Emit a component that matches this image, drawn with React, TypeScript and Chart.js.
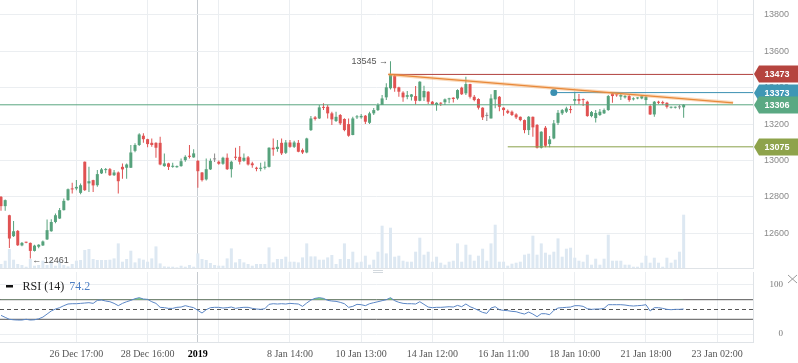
import React, { useEffect, useRef } from 'react';
import { Chart, registerables } from 'chart.js';

Chart.register(...registerables);

// ---------- data (one candle per trading hour, index 0..163) ----------
const OPEN = [
  12800, 12749, 12699, 12584, 12613, 12533, 12550, 12547, 12503, 12526,
  12533, 12566, 12611, 12662, 12681, 12727, 12782, 12846, 12846, 12822,
  12993, 12874, 12892, 12864, 12929, 12947, 12952, 12919, 12934, 12965,
  12960, 12960, 13053, 13085, 13136, 13117, 13097, 13097, 13097, 12969,
  12984, 12965, 12963, 12969, 13002, 13026, 13017, 12998, 12934, 12896,
  12951, 13006, 12993, 12982, 13015, 12952, 13020, 13020, 12998, 13017,
  12984, 12960, 12954, 12960, 12965, 13070, 13063, 13097, 13042, 13099,
  13075, 13097, 13057, 13044, 13167, 13237, 13231, 13294, 13295, 13259,
  13217, 13250, 13228, 13200, 13140, 13237, 13237, 13246, 13207, 13259,
  13277, 13305, 13347, 13397, 13466, 13402, 13373, 13350, 13350, 13354,
  13328, 13347, 13378, 13323, 13305, 13316, 13320, 13336, 13345, 13341,
  13400, 13369, 13420, 13350, 13338, 13290, 13245, 13231, 13336, 13350,
  13290, 13273, 13268, 13253, 13240, 13222, 13167, 13240, 13195, 13070,
  13180, 13090, 13121, 13207, 13259, 13268, 13281, 13328, 13338, 13336,
  13323, 13244, 13233, 13250, 13259, 13277, 13369, 13361, 13351, 13347,
  13354, 13336, 13341, 13341, 13332, 13299, 13253, 13323, 13321, 13317,
  13290, 13290, 13292, 13292,
];
const HIGH = [
  12805, 12785, 12702, 12668, 12618, 12552, 12553, 12549, 12537, 12540,
  12560, 12676, 12677, 12709, 12739, 12791, 12846, 12877, 12892, 12874,
  12995, 12965, 12894, 12947, 12958, 12958, 12958, 12947, 12940, 12984,
  12984, 13085, 13094, 13149, 13149, 13120, 13121, 13100, 13130, 13039,
  12987, 12987, 12972, 13011, 13029, 13085, 13061, 13002, 12937, 13011,
  13011, 13039, 13000, 13020, 13039, 12998, 13070, 13079, 13039, 13024,
  12993, 12966, 12987, 12995, 13072, 13121, 13112, 13121, 13112, 13112,
  13108, 13112, 13066, 13125, 13244, 13244, 13305, 13314, 13305, 13268,
  13268, 13255, 13232, 13231, 13240, 13250, 13255, 13250, 13268, 13288,
  13314, 13360, 13424, 13545, 13475, 13405, 13380, 13382, 13365, 13409,
  13436, 13411, 13380, 13327, 13320, 13320, 13340, 13345, 13347, 13392,
  13405, 13460, 13422, 13360, 13342, 13292, 13264, 13364, 13387, 13355,
  13292, 13280, 13275, 13260, 13242, 13225, 13245, 13242, 13200, 13160,
  13189, 13134, 13222, 13277, 13283, 13295, 13301, 13378, 13365, 13341,
  13328, 13272, 13277, 13283, 13286, 13360, 13372, 13365, 13369, 13360,
  13360, 13347, 13347, 13360, 13354, 13308, 13327, 13328, 13328, 13320,
  13296, 13296, 13305, 13310,
];
const LOW = [
  12723, 12723, 12519, 12580, 12530, 12528, 12545, 12461, 12500, 12518,
  12530, 12563, 12608, 12655, 12678, 12725, 12778, 12819, 12837, 12815,
  12832, 12827, 12827, 12855, 12925, 12930, 12915, 12915, 12819, 12899,
  12899, 12958, 13045, 13080, 13097, 13072, 13075, 13015, 12974, 12965,
  12947, 12960, 12960, 12966, 12993, 13011, 13015, 12850, 12885, 12890,
  12947, 12991, 12977, 12977, 12947, 12907, 13002, 12978, 12993, 12972,
  12960, 12941, 12941, 12950, 12962, 13026, 13048, 13030, 13035, 13070,
  13068, 13045, 13035, 13040, 13162, 13220, 13228, 13277, 13231, 13195,
  13212, 13195, 13160, 13130, 13138, 13228, 13230, 13200, 13200, 13250,
  13272, 13305, 13332, 13390, 13378, 13350, 13323, 13336, 13330, 13308,
  13325, 13327, 13310, 13305, 13273, 13300, 13305, 13315, 13318, 13334,
  13360, 13360, 13340, 13325, 13280, 13222, 13217, 13231, 13287, 13271,
  13246, 13255, 13245, 13228, 13215, 13149, 13140, 13130, 13066, 13066,
  13073, 13073, 13117, 13195, 13250, 13261, 13259, 13305, 13310, 13299,
  13240, 13237, 13209, 13244, 13255, 13273, 13317, 13350, 13332, 13341,
  13323, 13330, 13336, 13336, 13305, 13250, 13240, 13310, 13305, 13286,
  13285, 13285, 13281, 13235,
];
const CLOSE = [
  12749, 12782, 12571, 12611, 12534, 12547, 12548, 12503, 12532, 12537,
  12555, 12617, 12662, 12699, 12727, 12778, 12842, 12841, 12855, 12864,
  12837, 12886, 12863, 12925, 12951, 12952, 12919, 12934, 12886, 12951,
  12978, 13044, 13085, 13143, 13117, 13090, 13085, 13070, 12978, 12984,
  12965, 12971, 12969, 12996, 13020, 13020, 13039, 12941, 12892, 12952,
  12998, 13006, 12982, 13015, 12952, 12993, 13015, 12993, 13015, 12978,
  12974, 12954, 12960, 12965, 13070, 13061, 13075, 13039, 13099, 13075,
  13099, 13048, 13044, 13121, 13231, 13228, 13292, 13289, 13259, 13226,
  13240, 13204, 13167, 13136, 13231, 13242, 13245, 13213, 13259, 13277,
  13305, 13341, 13402, 13470, 13397, 13378, 13347, 13359, 13363, 13328,
  13433, 13382, 13323, 13308, 13317, 13312, 13336, 13341, 13338, 13387,
  13364, 13420, 13350, 13332, 13290, 13237, 13245, 13341, 13387, 13295,
  13277, 13262, 13250, 13237, 13222, 13167, 13240, 13182, 13070, 13158,
  13081, 13116, 13204, 13262, 13277, 13286, 13277, 13338, 13328, 13332,
  13244, 13266, 13261, 13268, 13277, 13354, 13354, 13358, 13360, 13354,
  13332, 13341, 13343, 13354, 13350, 13253, 13323, 13317, 13314, 13295,
  13293, 13293, 13292, 13306,
];
const VOLUME = [
  40, 73, 190, 83, 40, 30, 13, 90, 23, 30,
  73, 30, 73, 23, 73, 30, 16, 40, 73, 80,
  180, 190, 90, 80, 80, 80, 83, 96, 246, 63,
  90, 173, 56, 96, 83, 63, 96, 216, 46, 16,
  13, 13, 6, 23, 13, 30, 13, 146, 90, 80,
  50, 30, 23, 23, 96, 196, 56, 90, 56, 40,
  23, 40, 40, 40, 206, 56, 90, 90, 113, 63,
  63, 56, 106, 246, 116, 116, 83, 83, 106, 130,
  40, 90, 246, 90, 163, 56, 63, 123, 33, 83,
  163, 423, 146, 403, 113, 123, 73, 63, 63, 163,
  303, 133, 163, 63, 113, 53, 33, 63, 73, 246,
  63, 233, 133, 73, 123, 193, 73, 246, 433, 63,
  63, 23, 43, 53, 63, 133, 143, 323, 133, 246,
  153, 133, 163, 296, 113, 193, 203, 103, 73, 63,
  133, 33, 93, 33, 93, 333, 73, 73, 73, 33,
  33, 13, 13, 53, 123, 53, 103, 53, 13, 103,
  53, 83, 163, 533,
];
const RSI = [
  38, 34, 30, 29, 28.5, 28.5, 30, 28.5, 29, 31,
  34.5, 40.7, 47, 51, 53.7, 57.8, 61.2, 61.8, 61.8, 62.5,
  63.2, 63.9, 62.5, 68.6, 69.3, 67.3, 65.9, 62.5, 57.8, 62.5,
  65.9, 68.6, 72, 74.1, 71.4, 70.7, 65.9, 62.5, 54.4, 53.7,
  52.3, 52.3, 54.4, 55, 57.8, 55.7, 53.7, 48.2, 42.8, 49.6,
  53.7, 54.4, 54.4, 53, 53.7, 55, 52.3, 53.7, 54.4, 54.4,
  52.3, 51, 50.3, 51.6, 60.5, 61.8, 61.2, 61.8, 61.2, 62.5,
  61.8, 61.2, 56.4, 63.2, 69.3, 72.7, 74.1, 72.7, 68.6, 67.3,
  66.6, 64.6, 61.8, 54.4, 56.4, 60.5, 59.8, 57.8, 61.8, 63.9,
  65.9, 68, 70, 74.1, 68, 64.6, 62.5, 61.8, 61.8, 61.2,
  65.9, 60.5, 55, 53.7, 54.4, 54.4, 55, 55.7, 55, 58.4,
  55.7, 61.2, 55.7, 52.3, 48.2, 44.1, 42.1, 53, 55.7, 49.6,
  48.2, 47.6, 46.2, 45.5, 42.8, 40.7, 44.8, 40.7, 35.3, 41.4,
  41.4, 39.4, 48.2, 53, 53.7, 54.4, 55, 57.8, 57.8, 56.4,
  51.6, 50.3, 51, 51, 52.3, 59.8, 59.8, 59.8, 59.8, 59.1,
  57.8, 57.1, 57.8, 58.4, 59.8, 46.9, 53.7, 53.7, 52.3, 50.3,
  49.6, 50.3, 50.3, 51,
];

const X_TICK_POS = [18, 35, 47, 52, 69, 86, 103, 120, 137, 154, 171];
const X_TICK_LABELS = [
  '26 Dec 17:00', '28 Dec 16:00', '2019', '', '8 Jan 14:00', '10 Jan 13:00',
  '14 Jan 12:00', '16 Jan 11:00', '18 Jan 10:00', '21 Jan 18:00', '23 Jan 02:00',
];
const PRICE_TICKS = [12600, 12800, 13000, 13200, 13400, 13600, 13800];
const RSI_TICKS = [0, 100];

const LEVEL_VALUES = [13473, 13373, 13306, 13075];
const LEVEL_START = [92.5, 132, -0.24, 121];
const LEVEL_LINE_COLORS = ['#b0403d', '#3b90b2', '#5aa680', '#8aa04a'];
const LEVEL_TAG_COLORS = ['#b5443f', '#3f97b5', '#5aa983', '#8ea34b'];

const TREND_X = [92.5, 174.8];
const TREND_Y = [13473, 13317];

const HIGH_MARK = { index: 93, value: 13545 };
const LOW_MARK = { index: 7, value: 12461 };

const RSI_PERIOD = 14;
const RSI_CURRENT = 74.2;
const RSI_LEVELS = [70, 50, 30];

// ---------- scale settings ----------
const X_MIN = -0.24;
const X_MAX = 179.56;
const Y_MIN = 12409;
const Y_MAX = 13882;
const VOL_MAX = 2680;
const RSI_MIN = -16.3;
const RSI_MAX = 126.5;

const GREEN = '#56a27c';
const RED = '#e05252';
const GREY = '#8a8a8a';
const GRID = '#ebeef1';
const BORDER = '#dfe3e7';
const SANS = '"Liberation Sans", Arial, sans-serif';
const SERIF = '"Liberation Serif", "Times New Roman", serif';

const candleColor = (i: number) =>
  CLOSE[i] > OPEN[i] ? GREEN : CLOSE[i] < OPEN[i] ? RED : GREY;

const xGridColor = (ctx: any) =>
  X_TICK_LABELS[ctx.index] === '2019' ? '#c6cbd0' : GRID;

const setXTicks = (s: any) => {
  s.ticks = X_TICK_POS.map((v) => ({ value: v }));
};

const zeroPad = (s: any) => {
  s.paddingTop = 0;
  s.paddingBottom = 0;
  s.paddingLeft = 0;
  s.paddingRight = 0;
};

const mainOverlay = {
  id: 'mainOverlay',
  afterDraw(chart: any) {
    const { ctx, scales, chartArea } = chart;
    const x = scales.x;
    const y = scales.y;
    ctx.save();
    ctx.font = `9px ${SANS}`;
    ctx.fillStyle = '#555';
    ctx.textBaseline = 'middle';
    ctx.textAlign = 'right';
    ctx.fillText(
      `${HIGH_MARK.value} →`,
      x.getPixelForValue(HIGH_MARK.index) - 2.5,
      y.getPixelForValue(HIGH_MARK.value) + 0.5
    );
    ctx.textAlign = 'left';
    ctx.fillText(
      `← ${LOW_MARK.value}`,
      x.getPixelForValue(LOW_MARK.index) + 2,
      y.getPixelForValue(LOW_MARK.value) + 1.5
    );
    // price tags
    const left = chartArea.right + 1;
    const right = chart.width;
    LEVEL_VALUES.forEach((v, k) => {
      const py = Math.round(y.getPixelForValue(v));
      ctx.fillStyle = LEVEL_TAG_COLORS[k];
      ctx.beginPath();
      ctx.moveTo(left, py);
      ctx.lineTo(left + 5, py - 8.5);
      ctx.lineTo(right, py - 8.5);
      ctx.lineTo(right, py + 8.5);
      ctx.lineTo(left + 5, py + 8.5);
      ctx.closePath();
      ctx.fill();
      ctx.fillStyle = '#ffffff';
      ctx.font = `bold 9px ${SANS}`;
      ctx.textAlign = 'center';
      ctx.fillText(String(v), 777, py + 0.5);
    });
    ctx.restore();
  },
};

const rsiOverlay = {
  id: 'rsiOverlay',
  afterDraw(chart: any) {
    const { ctx } = chart;
    ctx.save();
    ctx.fillStyle = '#111';
    ctx.fillRect(6, 15, 7, 2.5);
    ctx.font = `12px ${SERIF}`;
    ctx.textBaseline = 'middle';
    ctx.textAlign = 'left';
    ctx.fillStyle = '#222';
    const title = `RSI (${RSI_PERIOD})`;
    ctx.fillText(title, 22.5, 17);
    const w = ctx.measureText(title).width;
    ctx.fillStyle = '#4d7fc4';
    ctx.fillText(RSI_CURRENT.toFixed(1), 22.5 + w + 5, 17);
    // close icon
    ctx.strokeStyle = '#9a9a9a';
    ctx.lineWidth = 1;
    ctx.beginPath();
    ctx.moveTo(788, 5);
    ctx.lineTo(797, 13);
    ctx.moveTo(797, 5);
    ctx.lineTo(788, 13);
    ctx.stroke();
    // panel resize handle
    ctx.fillStyle = '#d3d9de';
    ctx.fillRect(373, 0, 10, 1);
    ctx.fillRect(373, 2, 10, 1);
    ctx.restore();
  },
};

export default function App() {
  const mainRef = useRef<HTMLCanvasElement>(null);
  const rsiRef = useRef<HTMLCanvasElement>(null);

  useEffect(() => {
    const idx = OPEN.map((_, i) => i);
    const colors = idx.map(candleColor);

    const levelSets = LEVEL_VALUES.map((v, k) => ({
      type: 'line' as const,
      label: `level ${v}`,
      data: [
        { x: LEVEL_START[k], y: v },
        { x: X_MAX, y: v },
      ],
      yAxisID: 'y',
      borderColor: LEVEL_LINE_COLORS[k],
      borderWidth: 1,
      pointRadius: k === 1 ? [3.5, 0] : 0,
      pointBackgroundColor: LEVEL_LINE_COLORS[k],
      pointBorderWidth: 0,
      fill: false,
      order: 2,
    }));

    const trendPts = TREND_X.map((x, k) => ({ x, y: TREND_Y[k] }));

    const main = new Chart(mainRef.current as HTMLCanvasElement, {
      type: 'bar',
      data: {
        datasets: [
          {
            type: 'bar',
            label: 'Volume',
            data: VOLUME.map((v, i) => ({ x: i, y: v })),
            yAxisID: 'yVol',
            backgroundColor: '#dde8f2',
            barThickness: 3,
            grouped: false,
            inflateAmount: 0,
            order: 10,
          } as any,
          {
            type: 'bar',
            label: 'Wick',
            data: idx.map((i) => ({ x: i, y: [LOW[i], HIGH[i]] })),
            yAxisID: 'y',
            backgroundColor: colors,
            barThickness: 1,
            grouped: false,
            inflateAmount: 0,
            order: 6,
          } as any,
          {
            type: 'bar',
            label: 'Body',
            data: idx.map((i) => ({ x: i, y: [OPEN[i], CLOSE[i]] })),
            yAxisID: 'y',
            backgroundColor: colors,
            barThickness: 3,
            minBarLength: 1,
            grouped: false,
            inflateAmount: 0,
            order: 5,
          } as any,
          ...(levelSets as any[]),
          {
            type: 'line',
            label: 'trend glow',
            data: trendPts,
            yAxisID: 'y',
            borderColor: 'rgba(245,170,105,0.45)',
            borderWidth: 3.5,
            pointRadius: 0,
            fill: false,
            order: 1,
          } as any,
          {
            type: 'line',
            label: 'trend',
            data: trendPts,
            yAxisID: 'y',
            borderColor: '#e8893a',
            borderWidth: 1.2,
            pointRadius: 0,
            fill: false,
            order: 0,
          } as any,
        ],
      },
      options: {
        responsive: false,
        animation: false,
        events: [],
        layout: { padding: 0, autoPadding: false } as any,
        plugins: { legend: { display: false }, tooltip: { enabled: false } },
        scales: {
          x: {
            type: 'linear',
            min: X_MIN,
            max: X_MAX,
            offset: false,
            grid: { color: xGridColor, drawTicks: false, offset: false },
            border: { display: true, color: BORDER },
            ticks: { display: false },
            afterBuildTicks: setXTicks,
            afterFit: (s: any) => {
              s.height = 2;
              zeroPad(s);
            },
          },
          y: {
            type: 'linear',
            position: 'right',
            min: Y_MIN,
            max: Y_MAX,
            grid: { color: GRID, drawTicks: false },
            border: { display: true, color: BORDER },
            ticks: {
              color: '#8a8a8a',
              font: { family: SANS, size: 9 },
              padding: 11,
              callback: (v: any) => String(v),
            },
            afterBuildTicks: (s: any) => {
              s.ticks = PRICE_TICKS.map((v) => ({ value: v }));
            },
            afterFit: (s: any) => {
              s.width = 45;
              zeroPad(s);
            },
          },
          yVol: { type: 'linear', display: false, min: 0, max: VOL_MAX },
        },
      } as any,
      plugins: [mainOverlay],
    });

    const rsi = new Chart(rsiRef.current as HTMLCanvasElement, {
      type: 'line',
      data: {
        datasets: [
          {
            label: 'RSI',
            data: RSI.map((v, i) => ({ x: i, y: v })),
            borderColor: '#5b86c5',
            borderWidth: 1,
            pointRadius: 0,
            tension: 0,
            fill: { target: { value: RSI_LEVELS[0] }, above: '#7edb7e', below: 'rgba(0,0,0,0)' },
            order: 1,
          } as any,
          ...RSI_LEVELS.map((lv) => ({
            label: `rsi ${lv}`,
            data: [
              { x: X_MIN, y: lv },
              { x: X_MAX, y: lv },
            ],
            borderColor: '#555555',
            borderWidth: 1,
            borderDash: lv === 50 ? [4, 3] : [],
            pointRadius: 0,
            fill: false,
            order: 2,
          })),
        ],
      },
      options: {
        responsive: false,
        animation: false,
        events: [],
        layout: { padding: { top: 2, left: 0, right: 15, bottom: 0 }, autoPadding: false } as any,
        plugins: { legend: { display: false }, tooltip: { enabled: false } },
        scales: {
          x: {
            type: 'linear',
            min: X_MIN,
            max: X_MAX,
            offset: false,
            grid: { color: xGridColor, drawTicks: false },
            border: { display: true, color: BORDER },
            ticks: {
              autoSkip: false,
              maxRotation: 0,
              padding: 6,
              color: (c: any) => (X_TICK_LABELS[c.index] === '2019' ? '#000' : '#555'),
              font: (c: any) => ({
                family: SERIF,
                size: 10,
                weight: X_TICK_LABELS[c.index] === '2019' ? 'bold' : 'normal',
              }),
              callback: (_v: any, i: number) => X_TICK_LABELS[i],
            },
            afterBuildTicks: setXTicks,
            afterFit: (s: any) => {
              s.height = 21;
              zeroPad(s);
            },
          },
          y: {
            type: 'linear',
            position: 'right',
            min: RSI_MIN,
            max: RSI_MAX,
            grid: { color: GRID, drawTicks: false },
            border: { display: true, color: BORDER },
            ticks: {
              color: '#777',
              font: { family: SERIF, size: 9 },
              padding: 4,
              crossAlign: 'far',
              callback: (v: any) => String(v),
            },
            afterBuildTicks: (s: any) => {
              s.ticks = RSI_TICKS.map((v) => ({ value: v }));
            },
            afterFit: (s: any) => {
              s.width = 30;
              zeroPad(s);
            },
          },
        },
      } as any,
      plugins: [rsiOverlay],
    });

    return () => {
      main.destroy();
      rsi.destroy();
    };
  }, []);

  return (
    <div style={{ position: 'fixed', left: 0, top: 0, width: 798, height: 363, background: '#fff' }}>
      <canvas ref={mainRef} width={798} height={270} style={{ position: 'absolute', left: 0, top: 0 }} />
      <canvas ref={rsiRef} width={798} height={93} style={{ position: 'absolute', left: 0, top: 270 }} />
    </div>
  );
}
